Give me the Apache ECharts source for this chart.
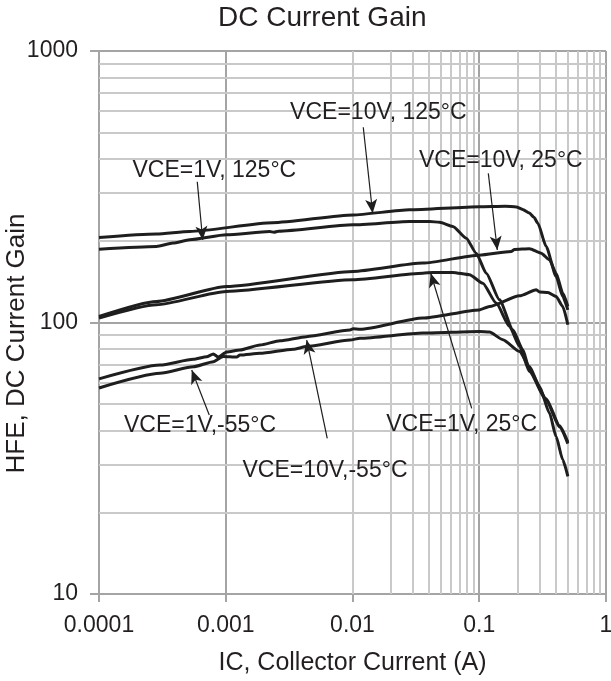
<!DOCTYPE html>
<html>
<head>
<meta charset="utf-8">
<script src="https://cdn.jsdelivr.net/npm/echarts@6/dist/echarts.min.js"></script>
<style>
html, body { margin: 0; padding: 0; background: #fff; }
#chart { width: 611px; height: 681px; }
</style>
</head>
<body>
<div id="chart"></div>
<script>
// Tick labels
const xTickLabels = ['0.0001', '0.001', '0.01', '0.1', '1'];
const yTickLabels = ['10', '100', '1000'];

// HFE vs IC curves, [IC (A), HFE]
const vce10_125 = [[1e-4,205.6],[2.84e-4,211.7],[5.19e-4,216.4],[2.34e-3,233],[0.0101,249],[0.0281,260],[0.1,267],[0.16,268],[0.196,266.5],[0.22,261],[0.249,253],[0.27,244],[0.29,232],[0.337,190.6],[0.404,147.7],[0.456,124.7],[0.5,111.3]];
const vce1_125 = [[1e-4,186.3],[2.84e-4,190.6],[3.84e-4,196.1],[5.19e-4,201.7],[1.01e-3,210.4],[2.22e-3,216.4],[2.4e-3,215],[2.6e-3,217],[0.0101,229],[0.0281,235.5],[0.0406,235.5],[0.0486,234],[0.0619,225.8],[0.0789,204.5],[0.0946,180.1],[0.1135,152.0],[0.1445,121.2],[0.184,94.0],[0.221,79.3],[0.249,67],[0.337,52.4],[0.43,41.7],[0.5,36.3]];
const vce10_25 = [[1e-4,105.2],[2.84e-4,119.5],[1.01e-3,135.7],[0.0101,154.2],[0.0359,165.5],[0.1,177],[0.1786,182.6],[0.1897,185.8],[0.249,186.9],[0.308,180.1],[0.358,170.2],[0.404,152.0],[0.456,128.3],[0.5,114.5]];
const vce1_25 = [[1e-4,103.8],[2.84e-4,116.2],[1.01e-3,130.1],[0.0101,143.7],[0.0359,152.0],[0.0431,152.9],[0.0619,152.9],[0.0838,149.9],[0.1067,139.6],[0.136,117.9],[0.1734,96.7],[0.208,81.6],[0.249,66],[0.337,51.8],[0.43,41.2],[0.5,35.8]];
const vce10_m55 = [[1e-4,62.0],[3.03e-4,69.7],[5.55e-4,73.2],[7.07e-4,74.8],[7.98e-4,76.6],[8.73e-4,74.6],[1.018e-3,77.8],[1.295e-3,79.2],[1.863e-3,82.6],[2.68e-3,85.7],[4.33e-3,88.7],[9.56e-3,93.8],[0.0101,94.8],[0.01146,94.4],[0.0359,103.8],[0.1,111.3],[0.1205,114.5],[0.208,125.4],[0.282,132.0],[0.299,129.5],[0.348,129.0],[0.404,124.7],[0.456,114.5],[0.5,98.1]];
const vce1_m55 = [[1e-4,57.4],[3.03e-4,65.0],[5.55e-4,68.7],[7.98e-4,71.7],[9.56e-4,75.0],[1.22e-3,74.6],[1.295e-3,75.9],[1.863e-3,77.0],[3.41e-3,79.7],[4.33e-3,81.5],[9.56e-3,86.2],[0.01146,87.5],[0.0359,91.4],[0.1,92.7],[0.1205,92.2],[0.1535,86.4],[0.208,78.2],[0.249,68.9],[0.299,58.1],[0.358,46.4],[0.404,38.0],[0.456,31.2],[0.5,27.1]];

// Callout texts, their anchor points and arrow ends, in data units
const calloutText = ['VCE=10V, 125°C', 'VCE=1V, 125°C', 'VCE=10V, 25°C', 'VCE=1V, 25°C', 'VCE=1V,-55°C', 'VCE=10V,-55°C'];
const calloutAt = [[0.0160,591],[8.13e-4,361],[0.148,393.6],[0.0727,41.9],[6.27e-4,41.6],[6.07e-3,28.4]];
const arrowFrom = [[0.01216,523.6],[5.96e-4,330],[0.1179,354.4],[0.0872,48.3],[7.41e-4,45.6],[6.32e-3,37.4]];
const arrowTo = [[0.01442,252.5],[6.58e-4,201.3],[0.1388,184.9],[0.0414,151.8],[5.39e-4,66.8],[4.35e-3,86.2]];

// Minor gridlines at 2..9 within each decade
const minorX = [];
for (let k = -4; k < 0; k++) for (let m = 2; m <= 9; m++) minorX.push(+(m * Math.pow(10, k)).toPrecision(3));
const minorY = [];
for (let k = 1; k < 3; k++) for (let m = 2; m <= 9; m++) minorY.push(m * Math.pow(10, k));

const FONT = '"Liberation Sans", Arial, sans-serif';
const TEXT = '#231f20';
const MAJOR = '#a4a4a4';
const MINOR = '#c9c9c9';
const CURVE = '#1e1e1e';

const chart = echarts.init(document.getElementById('chart'), null, { renderer: 'canvas' });

function curve(name, data) {
  return {
    name, type: 'line', data, showSymbol: false, symbol: 'none',
    smooth: 0.2, smoothMonotone: 'x', z: 5,
    lineStyle: { color: CURVE, width: 3 }, silent: true
  };
}

chart.setOption({
  animation: false,
  backgroundColor: '#fff',
  title: {
    text: 'DC Current Gain', left: 218, top: 4, padding: 0,
    textStyle: { fontFamily: FONT, fontSize: 28, fontWeight: 'normal', color: TEXT }
  },
  grid: { left: 99, right: 5, top: 51, bottom: 87, containLabel: false, outerBoundsMode: 'none' },
  xAxis: {
    type: 'log', logBase: 10, min: 1e-4, max: 1, splitNumber: 4,
    name: 'IC, Collector Current (A)', nameLocation: 'middle', nameGap: 57,
    nameMoveOverlap: false,
    nameTextStyle: { fontFamily: FONT, fontSize: 25, color: TEXT },
    axisLine: { show: true, lineStyle: { color: MAJOR, width: 2 } },
    axisTick: { show: true, inside: false, length: 8, lineStyle: { color: MAJOR, width: 2 } },
    axisLabel: {
      margin: 20, fontFamily: FONT, fontSize: 23, color: TEXT,
      formatter: v => xTickLabels[Math.round(Math.log10(v)) + 4]
    },
    splitLine: { show: true, lineStyle: { color: MAJOR, width: 2 } }
  },
  yAxis: {
    type: 'log', logBase: 10, min: 10, max: 1000, splitNumber: 2,
    name: 'HFE, DC Current Gain', nameLocation: 'middle', nameGap: 69,
    nameMoveOverlap: false,
    nameTextStyle: { fontFamily: FONT, fontSize: 26, color: TEXT, padding: [0, 42, 0, 0] },
    axisLine: { show: true, lineStyle: { color: MAJOR, width: 2 } },
    axisTick: { show: true, inside: false, length: 9, lineStyle: { color: MAJOR, width: 2 } },
    axisLabel: {
      margin: 21, fontFamily: FONT, fontSize: 23, color: TEXT,
      formatter: v => yTickLabels[Math.round(Math.log10(v)) - 1]
    },
    splitLine: { show: true, lineStyle: { color: MAJOR, width: 2 } }
  },
  series: [
    {
      name: 'minor grid', type: 'line', data: [[1e-4, 10]], symbol: 'none', silent: true, z: 1,
      lineStyle: { opacity: 0 },
      markLine: {
        silent: true, symbol: ['none', 'none'], animation: false,
        label: { show: false },
        lineStyle: { color: MINOR, width: 2, type: 'solid' },
        data: minorX.map(v => ({ xAxis: v })).concat(minorY.map(v => ({ yAxis: v })))
      }
    },
    curve('VCE=10V, 125°C', vce10_125),
    curve('VCE=1V, 125°C', vce1_125),
    curve('VCE=10V, 25°C', vce10_25),
    curve('VCE=1V, 25°C', vce1_25),
    curve('VCE=10V, -55°C', vce10_m55),
    curve('VCE=1V, -55°C', vce1_m55),
    {
      name: 'callouts', type: 'line', data: [[1e-4, 10]], symbol: 'none', silent: true, z: 6,
      lineStyle: { opacity: 0 },
      markLine: {
        silent: true, animation: false,
        symbol: ['none', 'arrow'], symbolSize: [9, 14],
        label: { show: false },
        lineStyle: { color: CURVE, width: 1.2, type: 'solid' },
        itemStyle: { color: CURVE },
        data: arrowFrom.map((p, i) => [{ coord: p }, { coord: arrowTo[i] }])
      },
      markPoint: {
        silent: true, animation: false,
        symbol: 'rect', symbolSize: 1,
        itemStyle: { color: 'rgba(0,0,0,0)' },
        label: {
          show: true, position: 'inside', color: TEXT,
          fontFamily: FONT, fontSize: 23,
          formatter: p => p.name
        },
        data: calloutAt.map((p, i) => ({ coord: p, name: calloutText[i] }))
      }
    }
  ]
});
</script>
</body>
</html>
